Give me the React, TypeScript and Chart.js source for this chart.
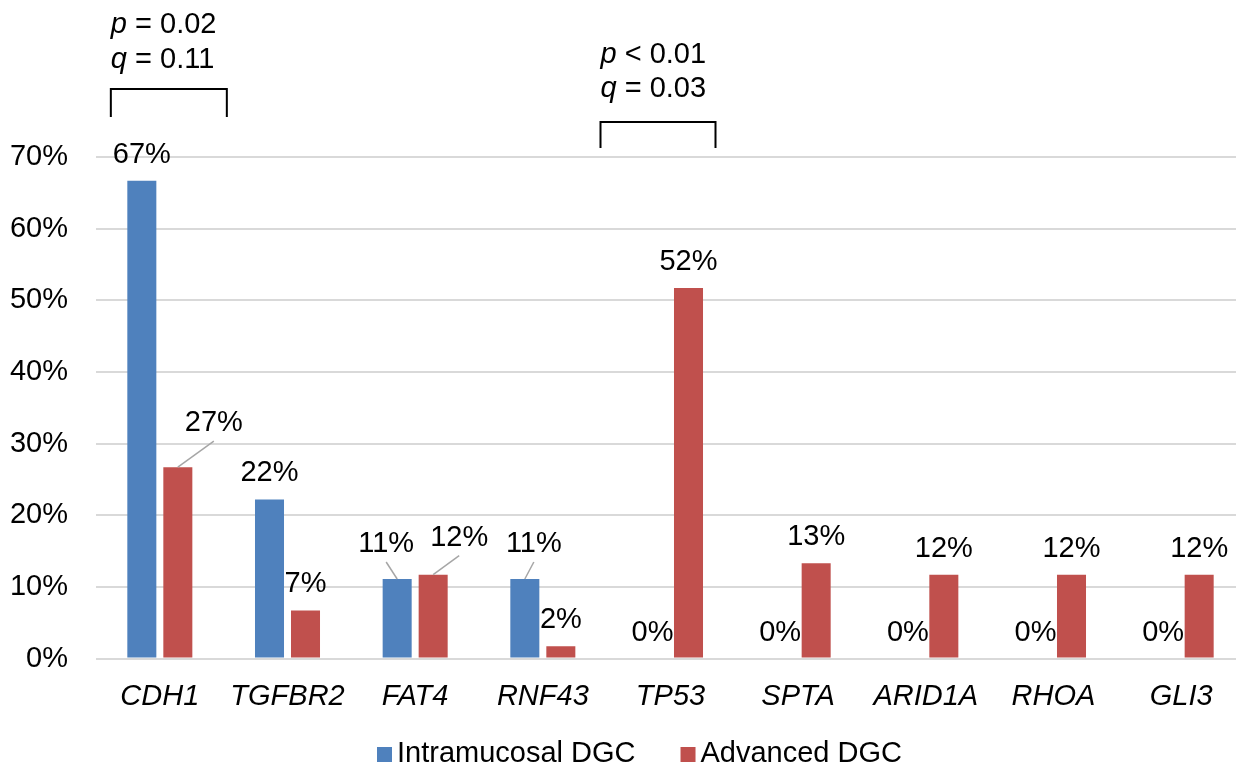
import React, { useEffect, useRef } from "react";
import { Chart, registerables } from "chart.js";

Chart.register(...registerables);

const categories = ["CDH1", "TGFBR2", "FAT4", "RNF43", "TP53", "SPTA", "ARID1A", "RHOA", "GLI3"];
const intramucosal = [66.7, 22.2, 11.1, 11.1, 0, 0, 0, 0, 0];
const advanced = [26.7, 6.7, 11.7, 1.7, 51.7, 13.3, 11.7, 11.7, 11.7];
const seriesNames = ["Intramucosal DGC", "Advanced DGC"];
const yTicks = [0, 10, 20, 30, 40, 50, 60, 70];

// significance annotations
const sigCategories = ["CDH1", "TP53"];
const sigP = ["= 0.02", "< 0.01"];
const sigQ = ["= 0.11", "= 0.03"];

const BLUE = "#4F81BD";
const RED = "#C0504D";
const FONT = "'Liberation Sans', Arial, sans-serif";
const FS = 29;

// label offsets (px) for labels with leader lines: key "dataset-index"
const labelShift: Record<string, [number, number]> = {
  "1-0": [36, -46],
  "0-2": [-11, -37],
  "1-2": [26, -39],
  "0-3": [9, -37],
};
// bracket geometry relative to category center / chart top (px)
const bracketGeom = [
  { left: -49, right: 67, top: -68, bottom: -40, line1: -124, line2: -89 },
  { left: -70, right: 45, top: -35, bottom: -9, line1: -94, line2: -60 },
];

const annotPlugin = {
  id: "annot",
  afterDatasetsDraw(chart: any) {
    const ctx = chart.ctx;
    ctx.save();
    ctx.font = `${FS}px ${FONT}`;
    ctx.fillStyle = "#000";
    ctx.textAlign = "center";
    ctx.textBaseline = "alphabetic";
    chart.data.datasets.forEach((ds: any, di: number) => {
      const meta = chart.getDatasetMeta(di);
      meta.data.forEach((bar: any, i: number) => {
        const v = ds.data[i];
        const key = `${di}-${i}`;
        const shift = labelShift[key];
        const dx = shift ? shift[0] : 0;
        const dy = shift ? shift[1] : -28;
        const x = bar.x;
        const y = bar.y;
        if (shift) {
          ctx.strokeStyle = "#a6a6a6";
          ctx.lineWidth = 1.5;
          ctx.beginPath();
          ctx.moveTo(x, y);
          ctx.lineTo(x + dx, y + dy + 20);
          ctx.stroke();
        }
        ctx.fillText(`${Math.round(v)}%`, x + dx, y + dy + 10);
      });
    });

    // brackets
    const xs = chart.scales.x;
    const top = chart.chartArea.top;
    sigCategories.forEach((c, k) => {
      const cx = xs.getPixelForValue(categories.indexOf(c));
      const g = bracketGeom[k];
      ctx.strokeStyle = "#000";
      ctx.lineWidth = 2;
      ctx.beginPath();
      ctx.moveTo(cx + g.left, top + g.bottom);
      ctx.lineTo(cx + g.left, top + g.top);
      ctx.lineTo(cx + g.right, top + g.top);
      ctx.lineTo(cx + g.right, top + g.bottom);
      ctx.stroke();
      ctx.textAlign = "left";
      const lines: [string, string, number][] = [
        ["p", sigP[k], g.line1],
        ["q", sigQ[k], g.line2],
      ];
      lines.forEach(([v, rest, off]) => {
        ctx.font = `italic ${FS}px ${FONT}`;
        const x0 = cx + g.left;
        ctx.fillText(v, x0, top + off);
        const w = ctx.measureText(v).width;
        ctx.font = `${FS}px ${FONT}`;
        ctx.fillText(" " + rest, x0 + w, top + off);
      });
    });

    // legend
    ctx.font = `${FS}px ${FONT}`;
    ctx.textAlign = "left";
    let lx = 377;
    const colors = [BLUE, RED];
    seriesNames.forEach((n, k) => {
      ctx.fillStyle = colors[k];
      ctx.fillRect(lx, 747, 15, 15);
      ctx.fillStyle = "#000";
      ctx.fillText(n, lx + 20, 762);
      lx += 20 + ctx.measureText(n).width + 45;
    });
    ctx.restore();
  },
};

export default function App() {
  const ref = useRef<HTMLCanvasElement>(null);
  useEffect(() => {
    if (!ref.current) return;
    const chart = new Chart(ref.current, {
      type: "bar",
      data: {
        labels: categories,
        datasets: [
          { label: seriesNames[0], data: intramucosal, backgroundColor: BLUE, categoryPercentage: 0.564, barPercentage: 0.806 },
          { label: seriesNames[1], data: advanced, backgroundColor: RED, categoryPercentage: 0.564, barPercentage: 0.806 },
        ],
      },
      options: {
        responsive: false,
        animation: false,
        layout: { padding: { top: 157, left: 0, right: 0, bottom: 0 } },
        plugins: { legend: { display: false }, tooltip: { enabled: false } },
        scales: {
          x: {
            grid: { display: false, drawTicks: false },
            border: { display: false },
            ticks: { color: "#000", font: { family: FONT, size: FS, style: "italic" }, padding: 21, maxRotation: 0 },
            afterFit: (s: any) => { s.height = 112.5; },
          },
          y: {
            min: 0,
            max: 70,
            afterBuildTicks: (s: any) => { s.ticks = yTicks.map((v) => ({ value: v })); },
            grid: { color: "#d9d9d9", lineWidth: 2, drawTicks: false },
            border: { display: false },
            ticks: { color: "#000", font: { family: FONT, size: FS }, padding: 28, callback: (v: any) => `${v}%` },
            afterFit: (s: any) => { s.width = 96; },
          },
        },
      },
      plugins: [annotPlugin],
    });
    return () => chart.destroy();
  }, []);
  return (
    <div style={{ position: "absolute", left: 0, top: 0, width: 1236, height: 771, overflow: "hidden", background: "#fff" }}>
      <canvas ref={ref} width={1245} height={771} />
    </div>
  );
}
